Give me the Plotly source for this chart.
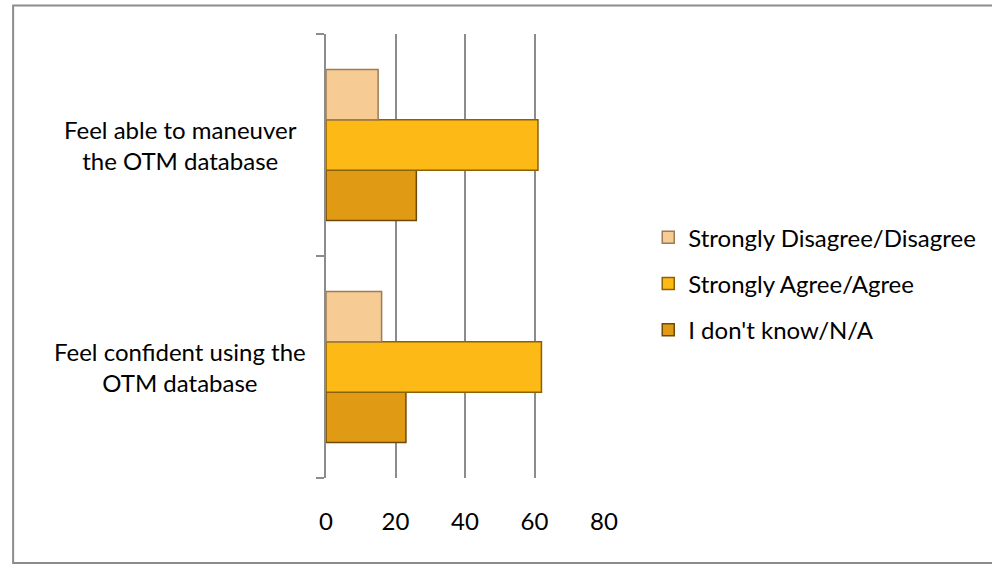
import plotly.graph_objects as go

categories = ["Feel confident using the OTM database", "Feel able to maneuver the OTM database"]
category_labels = ["Feel confident using the<br>OTM database", "Feel able to maneuver<br>the OTM database"]
series_names = ["I don't know/N/A", "Strongly Agree/Agree", "Strongly Disagree/Disagree"]
dont_know = [23, 26]
agree = [62, 61]
disagree = [16, 15]
x_ticks = [0, 20, 40, 60, 80]

series_values = [dont_know, agree, disagree]
fill_colors = ["#E19A14", "#FDBA16", "#F6CB94"]
line_colors = ["#6E4A08", "#8A6206", "#9C7B58"]
legend_ranks = [3, 2, 1]

FONT = "Lato"
FS = 24

fig = go.Figure()
for i, (name, vals) in enumerate(zip(series_names, series_values)):
    fig.add_trace(go.Bar(
        y=categories, x=vals, name=name, orientation="h",
        marker=dict(color=fill_colors[i], line=dict(color=line_colors[i], width=1.5)),
        legendgroup=name, legendrank=legend_ranks[i],
    ))

for cat, lab in zip(categories, category_labels):
    fig.add_annotation(
        x=-0.525, xref="paper", y=cat, yref="y", text=lab, showarrow=False,
        align="center", xanchor="center", yanchor="middle",
        font=dict(family=FONT, size=FS, color="#000000"),
    )

fig.update_layout(
    width=992, height=565,
    margin=dict(l=326, r=387, t=34, b=87),
    paper_bgcolor="white", plot_bgcolor="white",
    barmode="group", bargap=0.32, bargroupgap=0,
    font=dict(family=FONT, size=FS, color="#000000"),
    showlegend=True,
    legend=dict(
        x=1.155, xanchor="left", y=0.592, yanchor="top",
        traceorder="grouped", tracegroupgap=12,
        font=dict(family=FONT, size=FS, color="#000000"),
        itemwidth=30, bgcolor="rgba(0,0,0,0)",
    ),
    xaxis=dict(
        range=[0, 80], tickvals=x_ticks, showgrid=True, gridcolor="#8C8C8C", gridwidth=2,
        zeroline=False, showline=False, ticks="", ticklabelstandoff=27,
        tickfont=dict(family=FONT, size=FS),
    ),
    yaxis=dict(
        type="category", categoryorder="array", categoryarray=categories,
        showticklabels=False, showgrid=False, zeroline=False,
        showline=True, linecolor="#8C8C8C", linewidth=2,
        ticks="outside", tickson="boundaries", ticklen=8, tickcolor="#8C8C8C", tickwidth=2,
    ),
    shapes=[dict(type="rect", xref="paper", yref="paper",
                 x0=(12 - 326) / 279, x1=(1010 - 326) / 279,
                 y0=(565 - 87 - 563) / 444, y1=(565 - 87 - 5.5) / 444,
                 line=dict(color="#8C8C8C", width=2), fillcolor="rgba(0,0,0,0)", layer="below")],
)

fig.write_html("out.html")
